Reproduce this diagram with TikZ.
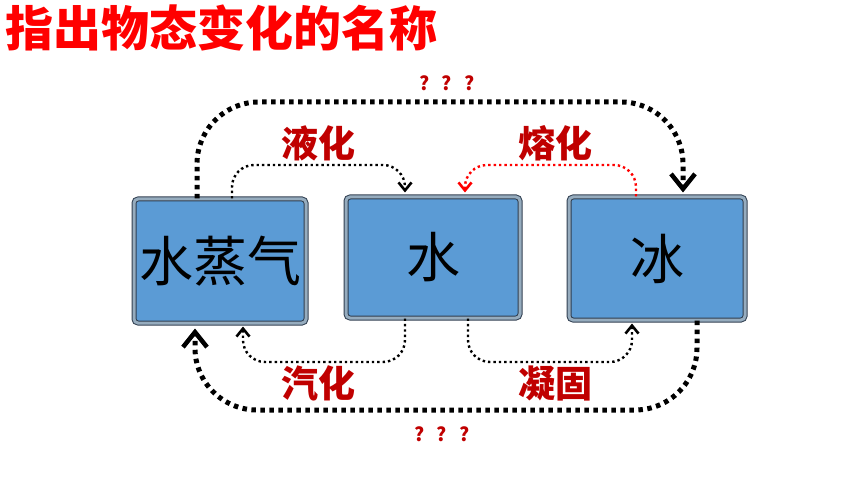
\documentclass[tikz,border=0pt]{standalone}
\usepackage{fontspec}
\newfontfamily\cjk{Noto Sans CJK SC}
\usetikzlibrary{arrows.meta}

\definecolor{boxblue}{RGB}{91,155,213}
\definecolor{frameedge}{RGB}{47,62,80}
\definecolor{framemid}{RGB}{150,172,190}
\definecolor{labelred}{RGB}{192,0,0}

\tikzset{
  statebox/.style={draw=frameedge, line width=1pt, double=framemid, double distance=3pt,
                   fill=boxblue, rounded corners=4pt, inner sep=0pt,
                   font=\cjk\fontsize{54}{54}\selectfont},
  thindots/.style={line width=2.4pt, dash pattern=on 2.4pt off 3pt,
                   rounded corners=22pt, -{Straight Barb[length=8pt,width=13pt,line width=2.6pt]}},
  fatdots/.style={line width=5pt, dash pattern=on 4.5pt off 4.5pt,
                  rounded corners=62pt, -{Straight Barb[length=15pt,width=24pt,line width=4.5pt]}},
  steplabel/.style={text=labelred, font=\cjk\bfseries\fontsize{37}{37}\selectfont},
  askmark/.style={text=labelred, font=\cjk\bfseries\fontsize{19}{19}\selectfont}
}

\begin{document}
\begin{tikzpicture}[x=1pt, y=-1pt]
  \useasboundingbox (0,0) rectangle (860,484);

  % title
  \node[anchor=west, text=red, font=\cjk\bfseries\fontsize{48}{48}\selectfont] (title) at (2,28) {指出物态变化的名称};

  % the three states
  \node[statebox, minimum width=172pt, minimum height=124pt] (vapor) at (220,261) {水蒸气};
  \node[statebox, minimum width=174pt, minimum height=121pt] (water) at (433,257.5) {水};
  \node[statebox, minimum width=176pt, minimum height=123pt] (ice) at (657,258.5) {冰};

  % upper arcs
  \draw[thindots] ([xshift=12pt]vapor.north) |- (318,165) -| ([xshift=-28pt,yshift=4pt]water.north);
  \draw[thindots, red] ([xshift=-21pt]ice.north) |- (555,165) -| ([xshift=32pt,yshift=4pt]water.north);
  \draw[fatdots] ([xshift=-23pt]vapor.north) |- (440,102) -| ([xshift=26pt,yshift=4pt]ice.north);

  % lower arcs
  \draw[thindots] ([xshift=-28pt]water.south) |- (318,362) -| ([xshift=23pt,yshift=-3pt]vapor.south);
  \draw[thindots] ([xshift=35pt]water.south) |- (555,362) -| ([xshift=-25pt,yshift=-3pt]ice.south);
  \draw[fatdots] ([xshift=40pt]ice.south) |- (440,410) -| ([xshift=-25pt,yshift=-5pt]vapor.south);

  % labels
  \node[steplabel] (liquefy) at (318,143) {液化};
  \node[steplabel] (melt) at (555,143) {熔化};
  \node[steplabel] (evaporate) at (318,383) {汽化};
  \node[steplabel] (freeze) at (555,383) {凝固};
  \node[askmark] (asktop) at (447,83) {?\hspace{12pt}?\hspace{12pt}?};
  \node[askmark] (askbottom) at (442,434) {?\hspace{12pt}?\hspace{12pt}?};
\end{tikzpicture}
\end{document}
